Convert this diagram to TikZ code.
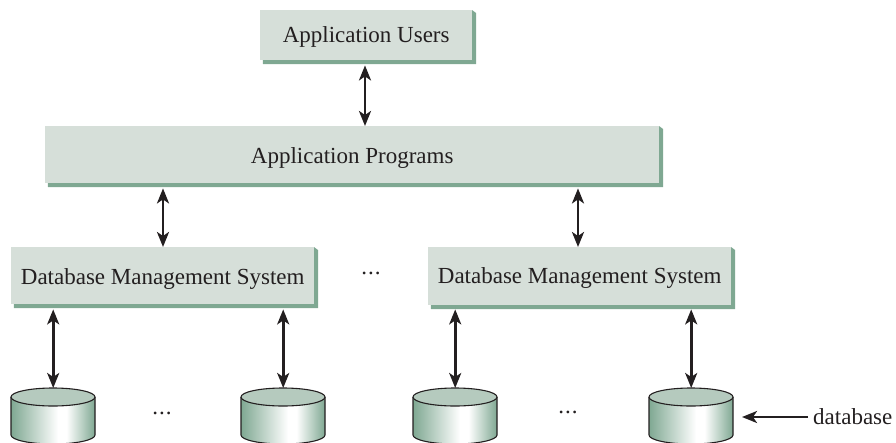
\documentclass[tikz,border=0pt]{standalone}
\usepackage{fontspec}
\setmainfont{Liberation Serif}
\usetikzlibrary{arrows.meta}
\definecolor{boxface}{HTML}{D6DFD9}
\definecolor{boxshade}{HTML}{7FA892}
\definecolor{cyltop}{HTML}{B5CABE}
\definecolor{cylside}{HTML}{7FA892}
\definecolor{ink}{HTML}{231F20}
\pgfdeclarehorizontalshading{cylshade}{100bp}{color(0bp)=(cylside); color(25bp)=(cylside); color(53bp)=(white); color(58bp)=(white); color(75bp)=(cylside); color(100bp)=(cylside)}
\tikzset{
  x=1pt,y=-1pt,
  every node/.style={font=\fontsize{23}{27}\selectfont,text=ink},
  panel/.style={fill=boxface,inner sep=0pt,anchor=north west},
  link/.style={draw=ink,line width=2.6pt,{Stealth[length=15pt,width=12pt,inset=4pt]}-{Stealth[length=15pt,width=12pt,inset=4pt]}},
  cylslot/.style={inner sep=0pt,minimum width=84pt,minimum height=54pt,anchor=north west},
  cylline/.style={draw=ink,line width=1.1pt},
  dotted label/.style={inner sep=0pt,font=\fontsize{23}{27}\selectfont\addfontfeature{LetterSpace=4}},
}
\newcommand{\lowered}[2]{\raisebox{-#1}[\height][\depth]{#2}}
\newcommand{\panelbox}[6]{% name, x0, y0, x1, y1, text
  \fill[boxshade] (#2,#3+3) -- (#2+3,#5+4) -- (#4+4,#5+4) -- (#4+4,#3+3) -- (#4,#3) -- cycle;
  \node[panel,minimum width=#4pt-#2pt,minimum height=#5pt-#3pt] (#1) at (#2,#3) {#6};
}
\newcommand{\cyl}[2]{% name, x
  \node[cylslot] (#1) at (#2,388) {};
  \shade[shading=cylshade] (#2,397) -- (#2,435) arc[start angle=180,end angle=360,x radius=42pt,y radius=9pt] -- (#2+84,397) -- cycle;
  \draw[cylline] (#2,397) -- (#2,435) arc[start angle=180,end angle=360,x radius=42pt,y radius=9pt] -- (#2+84,397);
  \draw[cylline,fill=cyltop] (#2+42,397) ellipse[x radius=42pt,y radius=9pt];
}
\begin{document}
\begin{tikzpicture}
\useasboundingbox (0,0) rectangle (896,442);
\panelbox{users}{260}{10}{472}{60}{\lowered{2pt}{Application Users}}
\panelbox{progs}{45}{126}{659}{183}{\lowered{3pt}{Application Programs}}
\panelbox{dbmsa}{11}{247}{314}{304}{\lowered{3.5pt}{Database Management System}}
\panelbox{dbmsb}{428}{247}{731}{305}{\lowered{2pt}{Database Management System}}
\cyl{cyla}{11}
\cyl{cylb}{241}
\cyl{cylc}{413}
\cyl{cyld}{649}
\node[dotted label] (dotsm) at (371,273) {...};
\node[dotted label] (dotsa) at (162,413) {...};
\node[dotted label] (dotsb) at (568,412) {...};
\node[anchor=west,inner sep=0pt] (dblabel) at (813,417) {database};
\draw[link] (users.south -| 365,0) ++(0,5) -- (progs.north -| 365,0);
\draw[link] (progs.south -| 163,0) ++(0,5) -- (dbmsa.north -| 163,0);
\draw[link] (progs.south -| 578,0) ++(0,5) -- (dbmsb.north -| 578,0);
\draw[link] (dbmsa.south -| cyla.north) ++(0,5) -- (cyla.north);
\draw[link] (dbmsa.south -| cylb.north) ++(0,5) -- (cylb.north);
\draw[link] (dbmsb.south -| cylc.north) ++(0,4) -- (cylc.north);
\draw[link] (dbmsb.south -| cyld.north) ++(0,4) -- (cyld.north);
\draw[draw=ink,line width=2.4pt,-{Stealth[length=15pt,width=12pt,inset=4pt]},shorten <=5pt] (dblabel.west) -- (742,417);
\end{tikzpicture}
\end{document}
